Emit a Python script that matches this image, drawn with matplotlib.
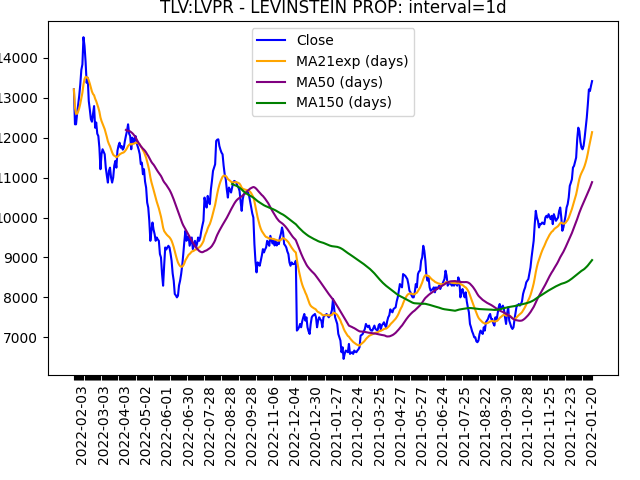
import matplotlib
matplotlib.use("Agg")
import matplotlib.pyplot as plt
import pandas as pd

title = "TLV:LVPR - LEVINSTEIN PROP: interval=1d"

close = [
    13210, 12335, 12335, 12600, 12835, 13050, 13335, 13700, 13835, 14517,
    14300, 13900, 13375, 13500, 12917, 12700, 12460, 12400, 12600, 12792,
    12250, 12380, 12100, 12042, 11750, 11210, 11585, 11710, 11650, 11585,
    11250, 11050, 10875, 11170, 11250, 11000, 10875, 11000, 11300, 11417,
    11250, 11670, 11800, 11875, 11750, 11790, 11700, 11750, 11917, 12050,
    12167, 12335, 12100, 12042, 11710, 12000, 11875, 11950, 12042, 11875,
    11790, 11700, 11585, 11335, 11375, 11085, 11210, 10900, 10750, 10375,
    10250, 9917, 9417, 9667, 9875, 9700, 9585, 9417, 9500, 9450,
    9417, 9085, 9000, 8585, 8292, 8800, 9250, 9200, 9250, 9292,
    9250, 9100, 8917, 8600, 8417, 8084, 8050, 8000, 8042, 8300,
    8417, 8584, 8800, 9084, 9400, 9667, 9417, 9500, 9542, 9292,
    9400, 9500, 9209, 9300, 9417, 9250, 9350, 9500, 9417, 9500,
    9667, 9800, 9917, 10500, 10350, 10250, 10542, 10400, 10334, 10700,
    10917, 11167, 11250, 11334, 11917, 11950, 11959, 11792, 11700, 11626,
    11584, 11300, 11084, 10959, 10700, 10500, 10751, 10700, 10626, 10750,
    10876, 10917, 10900, 10876, 10792, 10750, 10667, 10400, 10167, 10459,
    10584, 10600, 10626, 10626, 10626, 10542, 10400, 10250, 10100, 10001,
    9334, 8900, 8626, 8876, 8850, 8792, 8917, 9050, 9209, 9126,
    9200, 9250, 9417, 9350, 9292, 9542, 9450, 9350, 9459, 9300,
    9417, 9300, 9376, 9334, 9501, 9600, 9751, 9626, 9334, 9300,
    9251, 9150, 9084, 8876, 8792, 8876, 8834, 8834, 8850, 8917,
    7168, 7200, 7251, 7334, 7251, 7400, 7501, 7584, 7417, 7501,
    7251, 7150, 7084, 7334, 7501, 7542, 7560, 7584, 7501, 7251,
    7417, 7501, 7450, 7417, 7251, 7501, 7542, 7560, 7584, 7542,
    7501, 7540, 7584, 7680, 7959, 7750, 7501, 7417, 7334, 7084,
    7000, 6918, 6626, 6751, 6459, 6584, 6668, 6650, 6626, 6834,
    6584, 6610, 6626, 6584, 6668, 6640, 6626, 6668, 6700, 6751,
    7043, 7060, 7084, 7150, 7209, 7334, 7280, 7251, 7293, 7200,
    7168, 7168, 7230, 7293, 7209, 7190, 7168, 7300, 7334, 7200,
    7300, 7334, 7376, 7300, 7250, 7400, 7501, 7550, 7700, 7650,
    7626, 7709, 7730, 7751, 7900, 8001, 8167, 8334, 8280, 8251,
    8584, 8560, 8543, 8501, 8459, 8334, 8167, 8126, 8050, 8001,
    8001, 8126, 8334, 8251, 8584, 8650, 8668, 8918, 9001, 9292,
    9168, 8918, 8543, 8418, 8501, 8251, 8167, 8190, 8209, 8251,
    8126, 8251, 8209, 8250, 8293, 8209, 8280, 8334, 8400, 8459,
    8668, 8543, 8293, 8334, 8376, 8330, 8293, 8334, 8293, 8376,
    8330, 8293, 8501, 8418, 8001, 8150, 8209, 8084, 8001, 8126,
    7900, 7751, 7626, 7334, 7251, 7150, 7084, 7001, 7001, 6900,
    6876, 6918, 7084, 7168, 7120, 7084, 7251, 7168, 7376, 7420,
    7459, 7543, 7584, 7459, 7459, 7350, 7293, 7501, 7418, 7584,
    7751, 7834, 7709, 7750, 7793, 7709, 7501, 7334, 7600, 7751,
    7418, 7334, 7250, 7209, 7251, 7459, 7626, 7793, 7800, 7834,
    7793, 7834, 7900, 8084, 8180, 8251, 8376, 8418, 8459, 8600,
    8751, 9001, 9200, 9418, 9834, 10168, 10001, 9918, 9751, 9834,
    9834, 9876, 9850, 9834, 10001, 10043, 10001, 10084, 10020, 9959,
    10043, 9834, 10084, 10001, 9918, 9960, 10001, 10168, 10251, 10001,
    9668, 9751, 9900, 10043, 10251, 10334, 10500, 10793, 10870, 10959,
    11251, 11293, 11400, 11501, 11959, 12251, 12168, 11900, 11751, 11709,
    11793, 12000, 12251, 12501, 12834, 13209, 13168, 13300, 13417,
]

tick_labels = [
    "2022-02-03", "2022-03-03", "2022-04-03", "2022-05-02", "2022-06-01",
    "2022-06-30", "2022-07-28", "2022-08-28", "2022-09-28", "2022-11-06",
    "2022-12-04", "2020-12-30", "2021-01-27", "2021-02-24", "2021-03-25",
    "2021-04-27", "2021-05-27", "2021-06-24", "2021-07-25", "2021-08-22",
    "2021-09-30", "2021-10-28", "2021-11-25", "2021-12-23", "2022-01-20",
]
label_step = 20

s = pd.Series(close, dtype=float)
ma21 = s.ewm(span=21).mean()
ma50 = s.rolling(50).mean()
ma150 = s.rolling(150).mean()

n = len(close)
x = list(range(n))

fig = plt.figure(figsize=(6.4, 4.8), dpi=100)
fig.subplots_adjust(left=0.075, right=0.9656, bottom=0.2188, top=0.956)
ax = fig.add_subplot(111)

ax.plot(x, s, color="blue", label="Close")
ax.plot(x, ma21, color="orange", label="MA21exp (days)")
ax.plot(x, ma50, color="purple", label="MA50 (days)")
ax.plot(x, ma150, color="green", label="MA150 (days)")

first = (n - 1) - label_step * (len(tick_labels) - 1)
labels = [""] * n
for k, lab in enumerate(tick_labels):
    labels[first + k * label_step] = lab
ax.set_xticks(x)
ax.set_xticklabels(labels, rotation=90)

ax.set_title(title)
ax.legend(loc="upper center")

fig.savefig("out.png", dpi=100)
